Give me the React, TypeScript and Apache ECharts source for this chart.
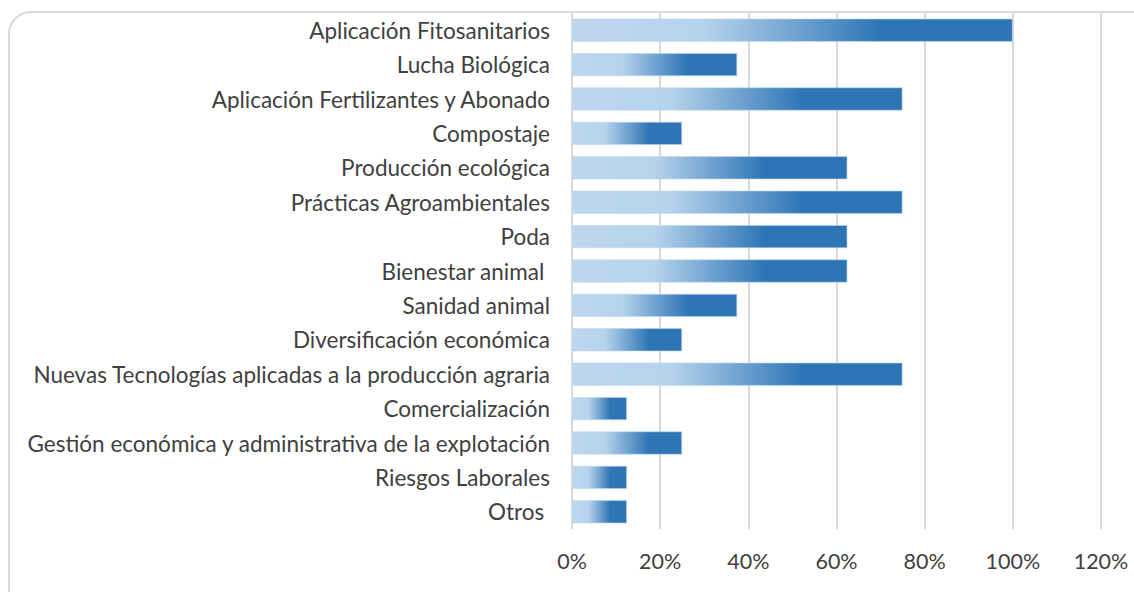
import React, { useEffect, useRef } from "react";
import * as echarts from "echarts";

const categories = [
  "Aplicación Fitosanitarios",
  "Lucha Biológica",
  "Aplicación Fertilizantes y Abonado",
  "Compostaje",
  "Producción ecológica",
  "Prácticas Agroambientales",
  "Poda",
  "Bienestar animal ",
  "Sanidad animal",
  "Diversificación económica",
  "Nuevas Tecnologías aplicadas a la producción agraria",
  "Comercialización",
  "Gestión económica y administrativa de la explotación",
  "Riesgos Laborales",
  "Otros ",
];

const values = [1.0, 0.375, 0.75, 0.25, 0.625, 0.75, 0.625, 0.625, 0.375, 0.25, 0.75, 0.125, 0.25, 0.125, 0.125];

const xTicks = { min: 0, max: 1.2, interval: 0.2 };

export default function App() {
  const ref = useRef<HTMLDivElement>(null);
  useEffect(() => {
    if (!ref.current) return;
    const chart = echarts.init(ref.current, undefined, { renderer: "svg" });
    const font = "Lato, 'Open Sans', sans-serif";
    chart.setOption({
      animation: false,
      backgroundColor: "#ffffff",
      graphic: [
        {
          type: "rect",
          shape: { x: 9, y: 12, width: 1160, height: 620, r: 22 },
          style: { fill: "none", stroke: "#d9d9d9", lineWidth: 2 },
          silent: true,
          z: 0,
        },
      ],
      grid: { left: 572, right: 33, top: 13, bottom: 63, containLabel: false },
      xAxis: {
        type: "value",
        min: xTicks.min,
        max: xTicks.max,
        interval: xTicks.interval,
        axisLine: { show: false },
        axisTick: { show: false },
        splitLine: { show: true, lineStyle: { color: "#d9d9d9", width: 2 } },
        axisLabel: {
          formatter: (v: number) => Math.round(v * 100) + "%",
          color: "#404040",
          fontSize: 21.5,
          fontFamily: font,
          margin: 21,
        },
      },
      yAxis: {
        type: "category",
        data: categories,
        inverse: true,
        axisLine: { show: false },
        axisTick: { show: false },
        axisLabel: {
          color: "#404040",
          fontSize: 22.5,
          fontFamily: font,
          margin: 22,
        },
      },
      series: [
        {
          type: "bar",
          data: values,
          barCategoryGap: "32%",
          itemStyle: {
            color: new echarts.graphic.LinearGradient(0, 0, 1, 0, [
              { offset: 0, color: "#bdd7ee" },
              { offset: 0.3, color: "#b6d3ec" },
              { offset: 0.7, color: "#2e75b6" },
              { offset: 1, color: "#2e75b6" },
            ]),
            borderColor: "rgba(189,215,238,0.6)",
            borderWidth: 1,
          },
        },
      ],
    });
    return () => chart.dispose();
  }, []);
  return (
    <div
      ref={ref}
      style={{ position: "fixed", left: 0, top: 0, width: 1134, height: 592 }}
    />
  );
}
